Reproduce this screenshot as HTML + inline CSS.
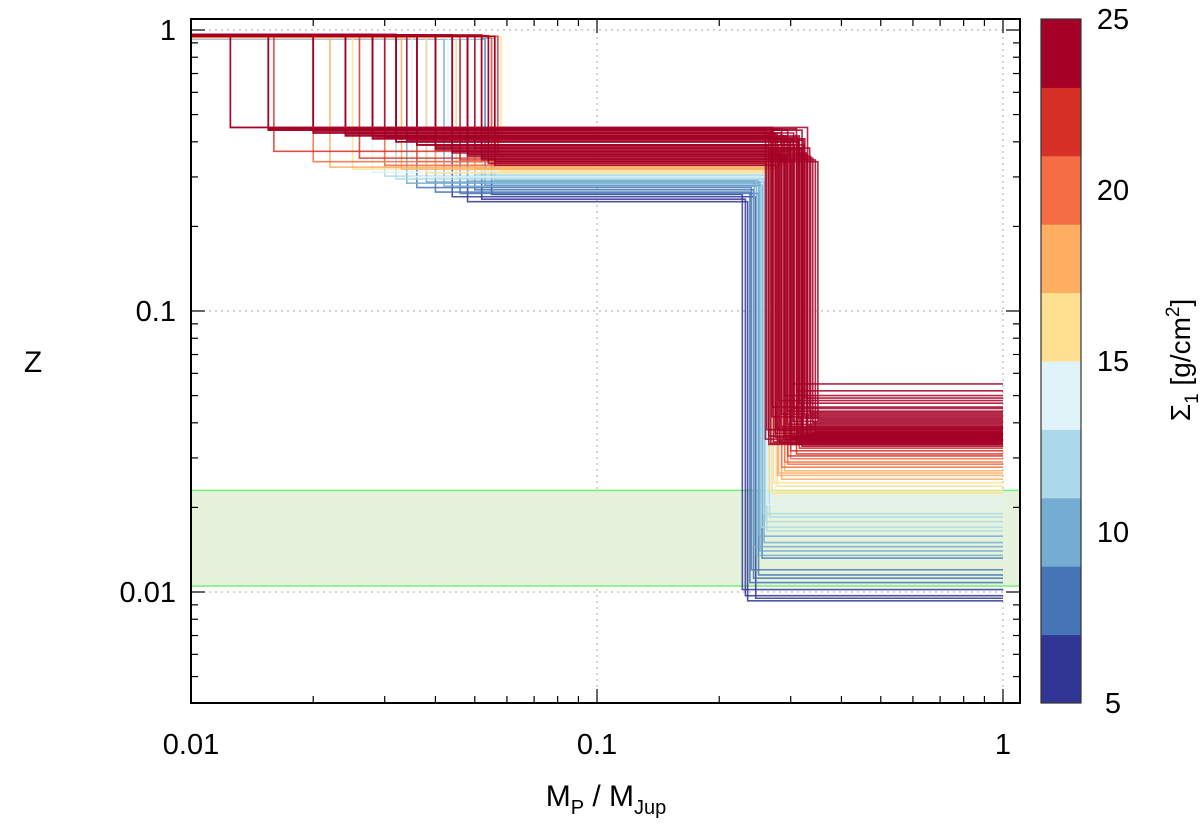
<!DOCTYPE html>
<html><head><meta charset="utf-8"><style>
body{margin:0;background:#fff;}
svg text{font-family:"Liberation Sans",sans-serif;fill:#000;}
</style></head><body>
<svg id="chart" width="1200" height="822" xmlns="http://www.w3.org/2000/svg">
<rect width="1200" height="822" fill="#fff"/>
<g id="grid"></g>
<g id="band"></g>
<g id="curves"></g>
<g id="axes"></g>
<g id="cbar"></g>
<text x="33" y="372" font-size="30" text-anchor="middle">Z</text>
<text x="606" y="806" font-size="30" text-anchor="middle">M<tspan font-size="20" dy="8">P</tspan><tspan dy="-8"> / M</tspan><tspan font-size="20" dy="8">Jup</tspan></text>
<text transform="translate(1190,360) rotate(-90)" font-size="28" text-anchor="middle">Σ<tspan font-size="19" dy="8">1</tspan><tspan dy="-8"> [g/cm</tspan><tspan font-size="19" dy="-11">2</tspan><tspan dy="11">]</tspan></text>
</svg>
<script>
const xTicks=[0.01,0.1,1];
const xTickLabels=["0.01","0.1","1"];
const yTicks=[0.01,0.1,1];
const yTickLabels=["0.01","0.1","1"];
const cbTicks=[5,10,15,20,25];
const cbColors=["#313695","#4575b4","#74add1","#abd9e9","#e0f3f8","#fee090","#fdae61","#f46d43","#d73027","#a50026"];
const bandLow=0.0105, bandHigh=0.023;
const sigma=[5.5,6.0,6.5,6.8,7.2,7.6,8.0,8.4,8.8,9.2,9.6,10.0,10.4,10.8,11.2,11.6,12.0,12.4,12.8,13.2,13.6,14.0,14.5,15.0,15.5,16.0,16.5,17.0,17.5,18.0,18.5,19.0,19.5,20.0,20.5,21.0,21.5,22.0,22.5,23.0,23.1,23.2,23.3,23.4,23.5,23.6,23.7,23.8,23.9,24.0,24.1,24.2,24.3,24.4,24.5,24.6,24.7,24.8,24.9,24.95,23.15,23.45,23.75,24.05,24.35,24.65,
 23.05,23.25,23.35,23.55,23.65,23.85,23.95,24.15,24.25,24.45,24.55,24.75,24.85,24.9,24.98,23.02,23.12,23.22,23.42,23.62,23.82,24.02,24.22,24.42,24.62,24.82];
const m1=[0.048,0.052,0.044,0.055,0.040,0.050,0.046,0.036,0.053,0.042,0.034,0.048,0.038,0.056,0.032,0.045,0.040,0.030,0.050,0.035,0.043,0.028,0.052,0.038,0.058,0.025,0.045,0.033,0.050,0.022,0.040,0.030,0.055,0.020,0.036,0.046,0.026,0.057,0.016,0.050,0.0125,0.0155,0.020,0.024,0.028,0.032,0.036,0.040,0.044,0.048,0.052,0.056,0.0125,0.0155,0.020,0.024,0.028,0.032,0.036,0.044,0.040,0.048,0.052,0.054,0.030,0.034,
 0.0155,0.020,0.024,0.028,0.032,0.036,0.040,0.044,0.048,0.052,0.054,0.056,0.020,0.024,0.028,0.032,0.036,0.040,0.044,0.048,0.052,0.056,0.0155,0.020,0.024,0.028];
const z1=[0.93,0.935,0.93,0.94,0.935,0.93,0.94,0.935,0.93,0.94,0.935,0.93,0.94,0.935,0.93,0.94,0.935,0.94,0.93,0.94,0.945,0.94,0.935,0.94,0.945,0.94,0.945,0.94,0.95,0.945,0.94,0.95,0.945,0.95,0.945,0.95,0.955,0.95,0.955,0.95,0.96,0.955,0.96,0.955,0.96,0.955,0.95,0.955,0.95,0.955,0.95,0.95,0.96,0.955,0.96,0.955,0.95,0.955,0.95,0.95,0.955,0.95,0.955,0.95,0.955,0.95,
 0.965,0.96,0.965,0.96,0.965,0.96,0.955,0.96,0.955,0.96,0.955,0.95,0.965,0.96,0.965,0.96,0.955,0.96,0.955,0.95,0.955,0.95,0.965,0.96,0.965,0.96];
const z2=[0.245,0.25,0.255,0.26,0.265,0.27,0.262,0.275,0.28,0.278,0.285,0.29,0.288,0.292,0.295,0.298,0.30,0.302,0.305,0.30,0.31,0.312,0.315,0.31,0.315,0.32,0.318,0.32,0.322,0.325,0.33,0.33,0.335,0.34,0.34,0.345,0.35,0.36,0.37,0.38,0.45,0.44,0.43,0.42,0.41,0.40,0.39,0.38,0.37,0.36,0.35,0.34,0.45,0.445,0.44,0.43,0.42,0.41,0.40,0.39,0.385,0.365,0.355,0.345,0.415,0.405,
 0.44,0.435,0.425,0.415,0.40,0.39,0.375,0.365,0.355,0.345,0.335,0.33,0.43,0.42,0.41,0.40,0.39,0.38,0.37,0.36,0.35,0.34,0.445,0.44,0.43,0.42];
const m2=[0.235,0.232,0.246,0.228,0.238,0.243,0.250,0.240,0.255,0.247,0.252,0.244,0.258,0.250,0.262,0.254,0.260,0.266,0.257,0.270,0.262,0.268,0.275,0.270,0.265,0.278,0.272,0.285,0.278,0.280,0.290,0.285,0.295,0.290,0.300,0.295,0.310,0.300,0.315,0.320,0.330,0.260,0.275,0.290,0.300,0.310,0.280,0.320,0.300,0.330,0.340,0.350,0.270,0.285,0.295,0.305,0.315,0.325,0.310,0.300,0.265,0.282,0.292,0.302,0.312,0.322,
 0.268,0.272,0.278,0.288,0.298,0.306,0.318,0.328,0.336,0.345,0.262,0.276,0.284,0.294,0.304,0.314,0.324,0.334,0.27,0.28,0.29,0.30,0.31,0.32,0.265,0.275];
const z3=[0.0093,0.0097,0.0095,0.0102,0.0108,0.0112,0.0115,0.012,0.0132,0.0135,0.014,0.0145,0.015,0.0158,0.0165,0.017,0.0178,0.0185,0.019,0.0198,0.0205,0.021,0.0218,0.0225,0.023,0.0238,0.0245,0.0252,0.026,0.0265,0.027,0.0278,0.0285,0.029,0.0298,0.0305,0.031,0.0318,0.0325,0.033,0.0345,0.035,0.0355,0.036,0.0365,0.037,0.0375,0.038,0.0385,0.039,0.040,0.041,0.042,0.043,0.044,0.045,0.047,0.049,0.052,0.055,0.0335,0.034,0.0348,0.0352,0.0358,0.0362,
 0.0338,0.0342,0.0346,0.035,0.0354,0.0357,0.036,0.0364,0.0368,0.0372,0.0378,0.0382,0.0388,0.0395,0.0405,0.0415,0.0425,0.0435,0.0455,0.048,0.05,0.0335,0.0343,0.0351,0.0359,0.0367];

const L=191,R=1020,T=19,B=703;
const X=v=>191+(Math.log10(v)+2)*406;
const Y=v=>592-(Math.log10(v)+2)*281;
const NS="http://www.w3.org/2000/svg";
function mk(tag,attrs,parent){const e=document.createElementNS(NS,tag);for(const k in attrs)e.setAttribute(k,attrs[k]);parent.appendChild(e);return e;}
const grid=document.getElementById('grid'),band=document.getElementById('band'),cg=document.getElementById('curves'),ax=document.getElementById('axes'),cb=document.getElementById('cbar');

xTicks.forEach(v=>{if(X(v)>L+2){const l=mk('line',{x1:X(v),x2:X(v),y1:T,y2:B,stroke:'#aaa','stroke-dasharray':'2,4','stroke-width':1},grid);

}});
yTicks.forEach(v=>{const l=mk('line',{x1:L,x2:R,y1:Y(v),y2:Y(v),stroke:'#aaa','stroke-dasharray':'2,4','stroke-width':1},grid);

});

const br=mk('rect',{x:L,y:Y(bandHigh),width:R-L,height:Y(bandLow)-Y(bandHigh),fill:'#e5f2dc'},band);


[bandLow,bandHigh].forEach(v=>{const l=mk('line',{x1:L,x2:R,y1:Y(v),y2:Y(v),stroke:'#77ee77','stroke-width':1.5},band);

});

function colorFor(s){let i=Math.floor((s-5)/2);i=Math.max(0,Math.min(9,i));return cbColors[i];}
const order=sigma.map((s,i)=>i).sort((a,b)=>sigma[a]-sigma[b]);
order.forEach(i=>{
 const d=`M${X(0.01)},${Y(z1[i])}H${X(m1[i])}V${Y(z2[i])}H${X(m2[i])}V${Y(z3[i])}H${X(1)}`;
 const p=mk('path',{d:d,fill:'none',stroke:colorFor(sigma[i]),'stroke-width':1.6,'stroke-opacity':0.85},cg);
 
 
});

const fr=mk('rect',{x:L,y:T,width:R-L,height:B-T,fill:'none',stroke:'#000','stroke-width':2},ax);


for(let d=-2;d<=0;d++){for(let k=1;k<=9;k++){const v=k*Math.pow(10,d);const x=X(v);if(x<L||x>R)continue;const len=k==1?14:7;
 mk('line',{x1:x,x2:x,y1:B,y2:B-len,stroke:'#000','stroke-width':1.2},ax);
 mk('line',{x1:x,x2:x,y1:T,y2:T+len,stroke:'#000','stroke-width':1.2},ax);}}
for(let d=-3;d<=0;d++){for(let k=1;k<=9;k++){const v=k*Math.pow(10,d);const y=Y(v);if(y<T||y>B)continue;const len=k==1?14:7;
 mk('line',{x1:L,x2:L+len,y1:y,y2:y,stroke:'#000','stroke-width':1.2},ax);
 mk('line',{x1:R,x2:R-len,y1:y,y2:y,stroke:'#000','stroke-width':1.2},ax);}}
xTicks.forEach((v,i)=>{const t=mk('text',{x:X(v),y:754,'font-size':29,'text-anchor':'middle'},ax);t.textContent=xTickLabels[i];

});
yTicks.forEach((v,i)=>{const t=mk('text',{x:176,y:Y(v)+10,'font-size':29,'text-anchor':'end'},ax);t.textContent=yTickLabels[i];

});

const cx=1041,cw=40;const CY=v=>B-(v-5)/20*(B-T);
cbColors.forEach((c,i)=>{const r=mk('rect',{x:cx,y:CY(5+2*(i+1)),width:cw,height:CY(5+2*i)-CY(5+2*(i+1))+0.5,fill:c},cb);

});
mk('rect',{x:cx,y:T,width:cw,height:B-T,fill:'none',stroke:'#333','stroke-width':1.2},cb);
cbTicks.forEach(v=>{const t=mk('text',{x:1113,y:CY(v)+10,'font-size':29,'text-anchor':'middle'},cb);t.textContent=String(v);

});
</script>
</body></html>
